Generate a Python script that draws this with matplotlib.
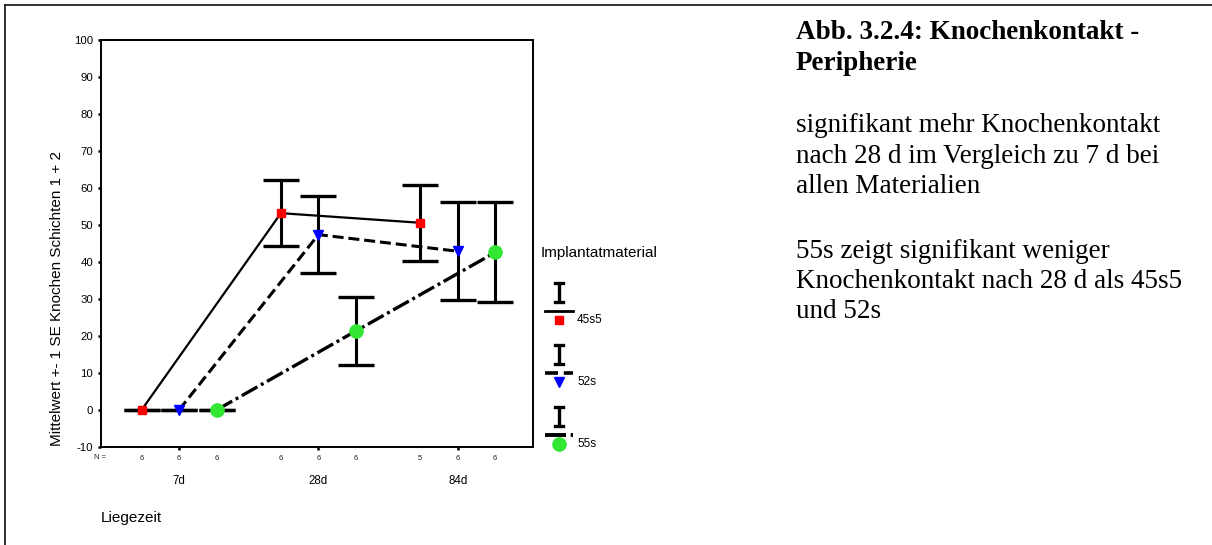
import matplotlib
matplotlib.use('Agg')
import matplotlib.pyplot as plt
from matplotlib.lines import Line2D

# ---------------- data ----------------
groups = ['7d', '28d', '84d']
materials = ['45s5', '52s', '55s']
mean_45s5 = [0.0, 53.2, 50.6]
se_45s5 = [0.0, 8.85, 10.3]
mean_52s = [0.0, 47.4, 42.9]
se_52s = [0.0, 10.5, 13.2]
mean_55s = [0.0, 21.35, 42.6]
se_55s = [0.0, 9.25, 13.5]
n_45s5 = [6, 6, 5]
n_52s = [6, 6, 6]
n_55s = [6, 6, 6]
yticks = list(range(-10, 101, 10))
ylabel = 'Mittelwert +- 1 SE Knochen Schichten 1 + 2'
xlabel = 'Liegezeit'
legend_title = 'Implantatmaterial'
title_lines = ['Abb. 3.2.4: Knochenkontakt -', 'Peripherie']
para1_lines = ['signifikant mehr Knochenkontakt',
               'nach 28 d im Vergleich zu 7 d bei',
               'allen Materialien']
para2_lines = ['55s zeigt signifikant weniger',
               'Knochenkontakt nach 28 d als 45s5',
               'und 52s']

means = [mean_45s5, mean_52s, mean_55s]
ses = [se_45s5, se_52s, se_55s]
ns = [n_45s5, n_52s, n_55s]

# ---------------- styles ----------------
plt.rcParams['font.family'] = ['Liberation Sans', 'DejaVu Sans']
W, H = 1212, 545
colors = ['#ff0000', '#0000ff', '#33e633']
markers = ['s', 'v', 'o']
msizes = [6.0, 7.0, 9.5]
lws = [1.6, 2.2, 2.4]
lstyles = ['-', (0, (3.6, 1.6)), (0, (5.4, 1.2, 0.9, 1.2))]
offsets = [-0.269, 0.0, 0.269]

fig = plt.figure(figsize=(W / 100, H / 100), dpi=100)
ax = fig.add_axes([101 / W, 1 - 447 / H, (533 - 101) / W, (447 - 40) / H])

gx = list(range(1, len(groups) + 1))
for i, m in enumerate(materials):
    xs = [g + offsets[i] for g in gx]
    ax.errorbar(xs, means[i], yerr=ses[i], fmt='none', ecolor='black',
                elinewidth=2.2, capsize=13, capthick=2.4, zorder=2)
    ax.plot(xs, means[i], color='black', lw=lws[i], ls=lstyles[i], zorder=3)
    ax.plot(xs, means[i], ls='none', marker=markers[i], ms=msizes[i],
            mfc=colors[i], mec=colors[i], zorder=4)
    for xv, nv in zip(xs, ns[i]):
        ax.annotate(str(nv), xy=(xv, 0), xycoords=('data', 'axes fraction'),
                    xytext=(0, -8), textcoords='offset points',
                    ha='center', va='center', fontsize=5.5, color='#222222')

ax.annotate('N =', xy=(0, 0), xycoords='axes fraction', xytext=(-0.7, -7.5),
            textcoords='offset points', ha='center', va='center',
            fontsize=5.5, color='#222222')

ax.set_xlim(0.44, 3.54)
ax.set_ylim(-10, 100)
ax.set_yticks(yticks)
ax.set_yticklabels([str(t) for t in yticks])
ax.set_xticks(gx)
ax.set_xticklabels(groups)
ax.tick_params(axis='y', direction='out', length=2.5, width=1.8,
               labelsize=8.2, pad=3.3, colors='black')
ax.tick_params(axis='x', direction='out', length=2.5, width=1.8,
               labelsize=8.3, pad=18, colors='black')
for s in ax.spines.values():
    s.set_linewidth(1.4)
    s.set_color('black')

fig.text(57 / W, 1 - 298 / H, ylabel, rotation=90, ha='center', va='center',
         fontsize=11)
fig.text(101 / W, 1 - 518 / H, xlabel, ha='left', va='center', fontsize=11)

# ---------------- overlay: frame and legend ----------------
lax = fig.add_axes([0, 0, 1, 1])
lax.set_xlim(0, W)
lax.set_ylim(H, 0)
lax.axis('off')

lax.plot([4.5, W], [4.5, 4.5], color='#222222', lw=1.3)
lax.plot([4.5, 4.5], [4.5, H], color='#222222', lw=1.3)

lax.text(541, 253, legend_title, ha='left', va='center', fontsize=11)
for i, m in enumerate(materials):
    base = 283 + 62 * i
    lax.plot([559, 559], [base, base + 19], color='black', lw=2.4,
             solid_capstyle='butt')
    lax.plot([555, 563], [base, base], color='black', lw=2.4)
    lax.plot([555, 563], [base + 19, base + 19], color='black', lw=2.4)
    lax.plot([545, 573], [base + 28, base + 28], color='black', lw=lws[i] + 0.4,
             ls=lstyles[i])
    lax.plot([559], [base + 37], ls='none', marker=markers[i], ms=msizes[i],
             mfc=colors[i], mec=colors[i])
    lax.text(577, base + 37, m, ha='left', va='center', fontsize=8.5)

# ---------------- right-hand text ----------------
serif = ['Liberation Serif', 'DejaVu Serif']
for line, yb in zip(title_lines, [39, 70]):
    fig.text(796 / W, 1 - yb / H, line, ha='left', va='baseline',
             fontsize=19.5, fontweight='bold', family=serif)
for line, yb in zip(para1_lines, [132, 163, 193]):
    fig.text(796 / W, 1 - yb / H, line, ha='left', va='baseline',
             fontsize=19.5, family=serif)
for line, yb in zip(para2_lines, [258, 288, 318]):
    fig.text(796 / W, 1 - yb / H, line, ha='left', va='baseline',
             fontsize=19.5, family=serif)

fig.savefig('out.png', dpi=100)
